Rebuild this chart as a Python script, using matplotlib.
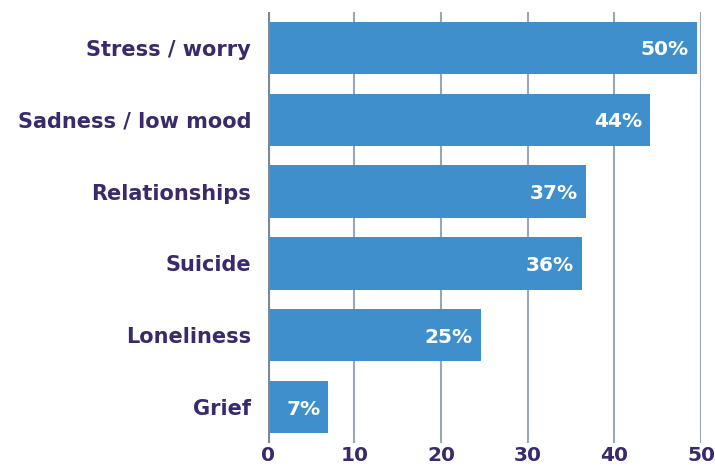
import matplotlib
matplotlib.use("Agg")
import matplotlib.pyplot as plt
from matplotlib.transforms import offset_copy

categories = ["Stress / worry", "Sadness / low mood", "Relationships", "Suicide", "Loneliness", "Grief"]
values = [49.5, 44.1, 36.7, 36.3, 24.6, 7.0]
value_labels = ["50%", "44%", "37%", "36%", "25%", "7%"]
xticks = [0, 10, 20, 30, 40, 50]

bar_color = "#3f8fcd"
text_color = "#3b2a6b"
grid_color = "#9ba6ba"
zero_color = "#7d8798"

plt.rcParams['font.family'] = ['DejaVu Sans']

fig = plt.figure(figsize=(7.15, 4.67), dpi=100)
ax = fig.add_axes([267.7/715, 1 - 443/467, (701 - 267.7)/715, (443 - 12)/467])

y = list(range(len(categories)))
ax.barh(y, values, height=0.73, color=bar_color, zorder=3)

ax.set_xlim(0, 50)
ax.set_ylim(5.5, -0.5)

for xt in xticks[1:]:
    ax.axvline(xt, color=grid_color, lw=1.5, zorder=1)
ax.axvline(0, color=zero_color, lw=3, zorder=4)

for sp in ax.spines.values():
    sp.set_visible(False)

ax.set_xticks(xticks)
ax.set_xticklabels([str(t) for t in xticks], fontsize=14.5, fontweight='bold', color=text_color)
ax.set_yticks(y)
ax.set_yticklabels(categories, fontsize=15, fontweight='bold', color=text_color)
ax.tick_params(axis='both', length=0)
ax.tick_params(axis='y', pad=12)
ax.tick_params(axis='x', pad=2)

for yi, v, lab in zip(y, values, value_labels):
    t = offset_copy(ax.transData, fig=fig, x=-8, y=0, units='dots')
    ax.text(v, yi, lab, transform=t, ha='right', va='center_baseline',
            fontsize=14.5, fontweight='bold', color='white', zorder=5)

fig.savefig("out.png", dpi=100)
